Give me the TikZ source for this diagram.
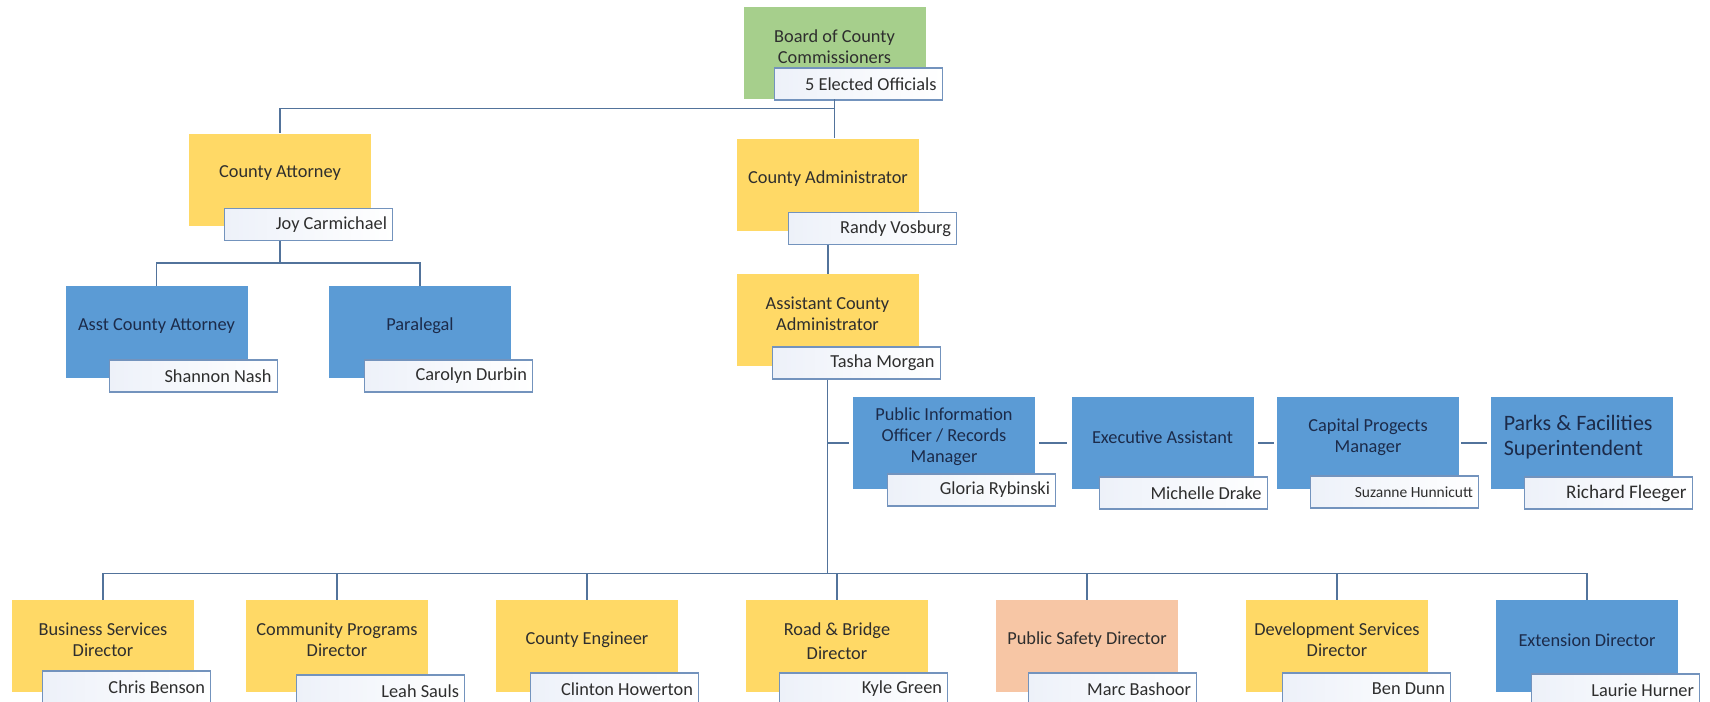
\documentclass[tikz,border=0pt]{standalone}
\usepackage{fontspec}
\setmainfont{Carlito}
\usetikzlibrary{positioning}
\definecolor{leaf}{HTML}{A6CF8C}
\definecolor{gold}{HTML}{FFD966}
\definecolor{sky}{HTML}{5B9BD5}
\definecolor{peach}{HTML}{F7C6A5}
\definecolor{wire}{HTML}{52739B}
\definecolor{rim}{HTML}{7393BD}
\definecolor{tint}{HTML}{EDF1F9}
\definecolor{ink}{HTML}{2E2E2E}
\definecolor{navy}{HTML}{1C2B4A}

\begin{document}
\begin{tikzpicture}[x=0.6pt,y=-0.6pt,node distance=150pt,
  post/.style={fill=#1,minimum width=109.2pt,minimum height=55.2pt,inner sep=0pt},
  role/.style={align=center,text=ink,font=\fontsize{11}{12.6}\selectfont,yshift=3.6pt},
  roleb/.style={role,text=navy},
  who/.style={draw=rim,line width=0.8pt,left color=tint,right color=white,
    minimum width=100.8pt,minimum height=19.2pt,text width=94pt,align=flush right,
    inner sep=0pt,text=ink,font=\fontsize{11}{13}\selectfont},
  link/.style={draw=wire,line width=0.9pt}]
\path[fill=white,use as bounding box] (0,0) rectangle (1710,702);

% top of the tree
\node[post=leaf,label={[role]center:Board of County\\Commissioners}] (Board) at (834.5,53) {};
\node[post=gold,label={[role]center:County Attorney}] (CA) at (280,179.5) {};
\node[post=gold,label={[role]center:County Administrator}] (Admin) at (828,184.5) {};
\node[post=sky,label={[roleb]center:Asst County Attorney}] (AsstAtty) at (156.5,332) {};
\node[post=sky,label={[roleb]center:Paralegal}] (Paralegal) at (420,332) {};
\node[post=gold,label={[role]center:Assistant County\\Administrator}] (AsstAdmin) at (827.5,320) {};

% staff row
\node[post=sky,label={[roleb]center:Public Information\\Officer / Records\\Manager}] (PIO) at (944,443) {};
\node[post=sky,label={[roleb]center:Executive Assistant}] (Exec) at (1162.5,443) {};
\node[post=sky,label={[roleb]center:Capital Progects\\Manager}] (Capital) at (1368,443) {};
\node[post=sky,label={[roleb,align=left,font=\fontsize{13.2}{15}\selectfont,xshift=-2pt]center:Parks \& Facilities\\Superintendent}] (Parks) at (1581.5,443) {};

% directors
\node[post=gold,label={[role]center:Business Services\\Director}] (Business) at (103,646) {};
\node[post=gold,label={[role]center:Community Programs\\Director}] (Community) at (337,646) {};
\node[post=gold,label={[role]center:County Engineer}] (Engineer) [right of=Community] {};
\node[post=gold,label={[role,font=\fontsize{11}{14.4}\selectfont,yshift=-1pt]center:Road \& Bridge\\Director}] (Road) [right of=Engineer] {};
\node[post=peach,label={[role]center:Public Safety Director}] (Safety) [right of=Road] {};
\node[post=gold,label={[role]center:Development Services\\Director}] (Dev) [right of=Safety] {};
\node[post=sky,label={[roleb]center:Extension Director}] (Ext) [right of=Dev] {};

% name plates
\node[who] (nBoard) [below left=-19.2pt and -10.2pt of Board.south east] {5 Elected Officials};
\node[who] (nCA) [below left=-10.8pt and -13.2pt of CA.south east] {Joy Carmichael};
\node[who] (nAdmin) [below left=-11.4pt and -22.8pt of Admin.south east] {Randy Vosburg};
\node[who] (nAsstAtty) [below left=-11.4pt and -18pt of AsstAtty.south east] {Shannon Nash};
\node[who] (nParalegal) [below left=-11.4pt and -13.2pt of Paralegal.south east] {Carolyn Durbin};
\node[who] (nAsstAdmin) [below left=-12pt and -13.2pt of AsstAdmin.south east] {Tasha Morgan};
\node[who] (nPIO) [below left=-9.6pt and -12.6pt of PIO.south east] {Gloria Rybinski};
\node[who] (nExec) [below left=-7.8pt and -8.4pt of Exec.south east] {Michelle Drake};
\node[who,font=\fontsize{9.3}{11}\selectfont] (nCapital) [below left=-8.4pt and -12pt of Capital.south east] {Suzanne Hunnicutt};
\node[who,font=\fontsize{11.5}{13}\selectfont] (nParks) [below left=-7.8pt and -12pt of Parks.south east] {Richard Fleeger};
\node[who] (nBusiness) [below left=-13.2pt and -10.2pt of Business.south east] {Chris Benson};
\node[who] (nCommunity) [below left=-10.8pt and -22.2pt of Community.south east] {Leah Sauls};
\node[who] (nEngineer) [below left=-12pt and -12.6pt of Engineer.south east] {Clinton Howerton};
\node[who] (nRoad) [below left=-12pt and -12pt of Road.south east] {Kyle Green};
\node[who] (nSafety) [below left=-12pt and -11.4pt of Safety.south east] {Marc Bashoor};
\node[who] (nDev) [below left=-12pt and -13.8pt of Dev.south east] {Ben Dunn};
\node[who] (nExt) [below left=-11.4pt and -13.2pt of Ext.south east] {Laurie Hurner};

% connectors
\draw[link] (Board.south) -- ++(0,9) -| (CA.north);
\draw[link] (Board.south) -- (Board.south |- Admin.north);
\draw[link] (CA |- nCA.south) -- ++(0,22) coordinate (caj) -| (AsstAtty.north);
\draw[link] (caj) -| (Paralegal.north);
\draw[link] (Admin |- nAdmin.south) -- (Admin |- AsstAdmin.north);
\coordinate (hub) at ([yshift=15.6pt]Business.north -| AsstAdmin);
\draw[link] (AsstAdmin |- nAsstAdmin.south) -- (hub);
\draw[link,shorten >=2.4pt] (PIO.west -| AsstAdmin) -- (PIO.west);
\draw[link,shorten <=2.4pt,shorten >=2.4pt] (PIO.east) -- (Exec.west);
\draw[link,shorten <=2.4pt,shorten >=1.8pt] (Exec.east) -- (Capital.west);
\draw[link,shorten <=1.2pt,shorten >=1.8pt] (Capital.east) -- (Parks.west);
\draw[link] (hub) -| (Business.north);
\draw[link] (hub) -| (Community.north);
\draw[link] (hub) -| (Engineer.north);
\draw[link] (hub) -| (Road.north);
\draw[link] (hub) -| (Safety.north);
\draw[link] (hub) -| (Dev.north);
\draw[link] (hub) -| (Ext.north);
\end{tikzpicture}
\end{document}
